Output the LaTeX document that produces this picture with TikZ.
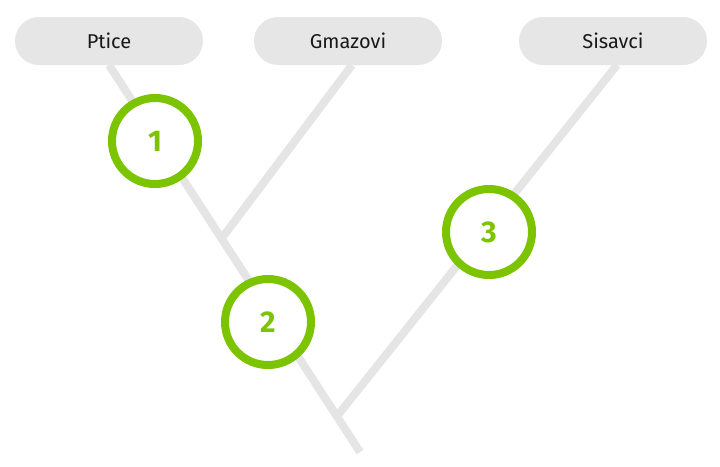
\documentclass[tikz,border=0pt]{standalone}
\usepackage{fontspec}
\setmainfont{Fira Sans}
\usetikzlibrary{shadows}
\definecolor{branch}{HTML}{E5E5E5}
\definecolor{leaf}{HTML}{E6E6E6}
\definecolor{mark}{HTML}{7CC400}
\begin{document}
\begin{tikzpicture}[x=1pt,y=-1pt,
	taxon/.style={fill=leaf, rounded corners=24pt, minimum width=188pt, minimum height=48pt, font=\fontsize{20}{24}\selectfont, text=black!90},
	badge/.style={circle, draw=mark, line width=8pt, fill=white, minimum size=86pt, font=\fontsize{30}{34}\selectfont\bfseries, text=mark, drop shadow={opacity=0.25, shadow xshift=0pt, shadow yshift=-4pt}},
	twig/.style={draw=branch, line width=8pt}]
	\useasboundingbox (0,0) rectangle (720,466);
	\fill[white] (0,0) rectangle (720,466);
	\coordinate (root) at (360,452);
	\coordinate (j1) at (222,238);
	\coordinate (j2) at (338,415);
	\coordinate (p) at (109,65);
	\coordinate (g) at (352,65);
	\coordinate (s) at (617,65);
	\draw[twig] (p) -- (root);
	\draw[twig] (g) -- (j1);
	\draw[twig] (s) -- (j2);
	\node[taxon] (ptice) at (109,41) {Ptice};
	\node[taxon] (gmazovi) at (348,41) {Gmazovi};
	\node[taxon] (sisavci) at (613,41) {Sisavci};
	\node[badge] (1) at (155,141) {1};
	\node[badge] (2) at (268,322) {2};
	\node[badge] (3) at (489,232) {3};
\end{tikzpicture}
\end{document}
